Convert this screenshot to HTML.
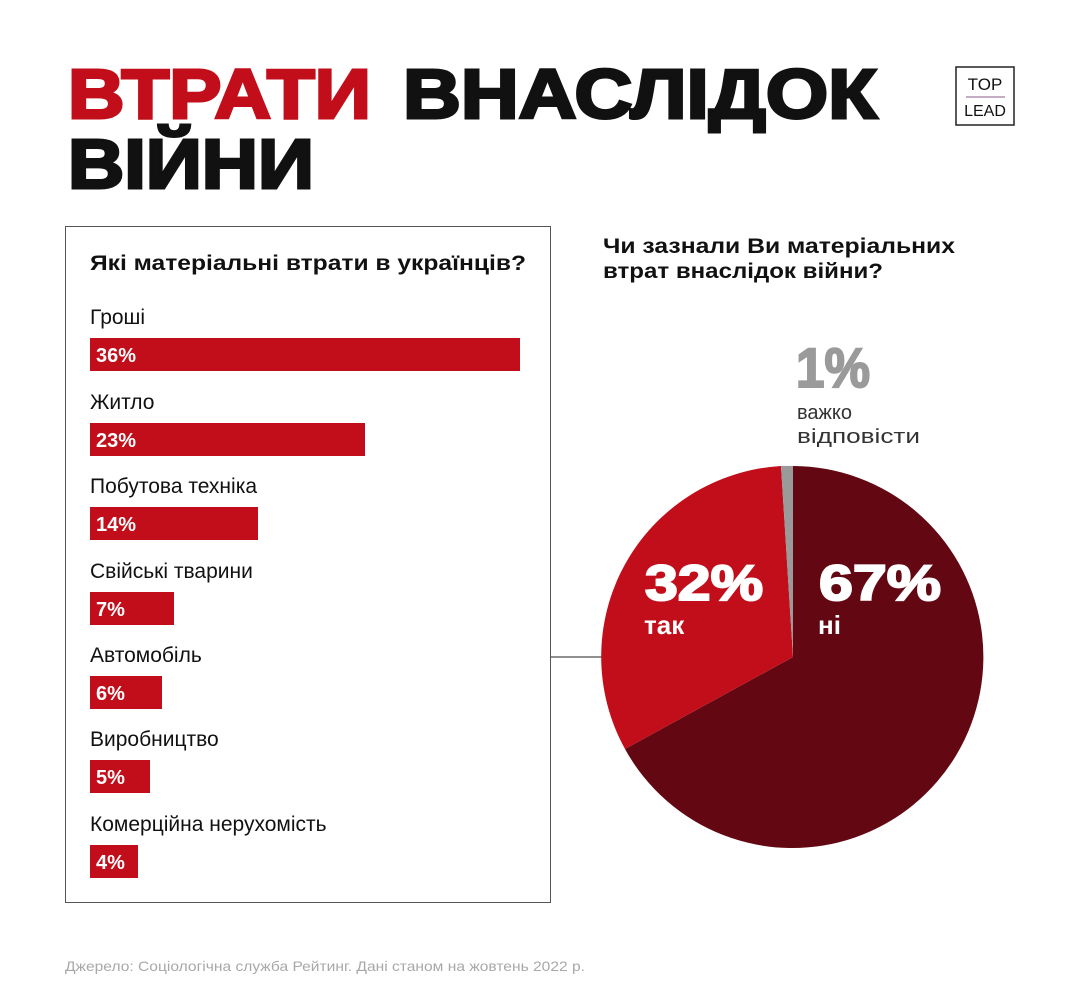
<!DOCTYPE html>
<html><head><meta charset="utf-8"><style>
html,body{margin:0;padding:0;background:#fff}
svg{display:block}
text{font-family:"Liberation Sans","DejaVu Sans",sans-serif}
</style></head><body>
<svg width="1080" height="987" viewBox="0 0 1080 987" xmlns="http://www.w3.org/2000/svg">
<rect width="1080" height="987" fill="#fff"/>
<text x="68" y="118" font-size="70" font-weight="bold" fill="#c20e1a" stroke="#c20e1a" stroke-width="3" textLength="303" lengthAdjust="spacingAndGlyphs">ВТРАТИ</text>
<text x="403" y="118" font-size="70" font-weight="bold" fill="#111" stroke="#111" stroke-width="3" textLength="474" lengthAdjust="spacingAndGlyphs">ВНАСЛІДОК</text>
<text x="68" y="188" font-size="70" font-weight="bold" fill="#111" stroke="#111" stroke-width="3" textLength="246" lengthAdjust="spacingAndGlyphs">ВІЙНИ</text>
<rect x="956" y="67" width="58" height="58" fill="none" stroke="#222" stroke-width="1.5"/>
<text x="985" y="90" font-size="17" fill="#111" text-anchor="middle">TOP</text>
<line x1="966" y1="97" x2="1005" y2="97" stroke="#8a5a8a" stroke-width="1"/>
<text x="985" y="116" font-size="16" fill="#111" text-anchor="middle">LEAD</text>
<rect x="65.5" y="226.5" width="485" height="676" fill="none" stroke="#555" stroke-width="1"/>
<line x1="551" y1="657" x2="703" y2="657" stroke="#222" stroke-width="1"/>
<text x="90" y="270" font-size="21" font-weight="bold" fill="#111" textLength="436" lengthAdjust="spacingAndGlyphs">Які матеріальні втрати в українців?</text>
<g font-size="21" fill="#111">
<text x="90" y="324">Гроші</text>
<text x="90" y="409">Житло</text>
<text x="90" y="493">Побутова техніка</text>
<text x="90" y="578">Свійські тварини</text>
<text x="90" y="662">Автомобіль</text>
<text x="90" y="746">Виробництво</text>
<text x="90" y="831">Комерційна нерухомість</text>
</g>
<g fill="#c20e1a">
<rect x="90" y="338" width="430" height="33"/>
<rect x="90" y="423" width="275" height="33"/>
<rect x="90" y="507" width="168" height="33"/>
<rect x="90" y="592" width="84" height="33"/>
<rect x="90" y="676" width="72" height="33"/>
<rect x="90" y="760" width="60" height="33"/>
<rect x="90" y="845" width="48" height="33"/>
</g>
<g font-size="20" font-weight="bold" fill="#fff">
<text x="96" y="362">36%</text>
<text x="96" y="447">23%</text>
<text x="96" y="531">14%</text>
<text x="96" y="616">7%</text>
<text x="96" y="700">6%</text>
<text x="96" y="784">5%</text>
<text x="96" y="869">4%</text>
</g>
<text x="603" y="253" font-size="21" font-weight="bold" fill="#111" textLength="352" lengthAdjust="spacingAndGlyphs">Чи зазнали Ви матеріальних</text>
<text x="603" y="278" font-size="21" font-weight="bold" fill="#111" textLength="280" lengthAdjust="spacingAndGlyphs">втрат внаслідок війни?</text>
<text x="796" y="387" font-size="56" font-weight="bold" fill="#9a9a9a" stroke="#9a9a9a" stroke-width="2" textLength="74" lengthAdjust="spacingAndGlyphs">1%</text>
<text x="797" y="419" font-size="20" fill="#333">важко</text>
<text x="797" y="443" font-size="20" fill="#333" textLength="123" lengthAdjust="spacingAndGlyphs">відповісти</text>
<path d="M793,657 L793,466 A191,191 0 1 1 625,749 Z" fill="#630812"/>
<path d="M793,657 L625,749 A191,191 0 0 1 781,466 Z" fill="#c20e1a"/>
<path d="M793,657 L781,466 A191,191 0 0 1 793,466 Z" fill="#9a9a9a"/>
<text x="645" y="600" font-size="50" font-weight="bold" fill="#fff" stroke="#fff" stroke-width="2" textLength="118" lengthAdjust="spacingAndGlyphs">32%</text>
<text x="644" y="634" font-size="26" font-weight="bold" fill="#fff">так</text>
<text x="819" y="600" font-size="50" font-weight="bold" fill="#fff" stroke="#fff" stroke-width="2" textLength="122" lengthAdjust="spacingAndGlyphs">67%</text>
<text x="818" y="634" font-size="26" font-weight="bold" fill="#fff">ні</text>
<text x="65" y="971" font-size="14" fill="#a8a8a8" textLength="520" lengthAdjust="spacingAndGlyphs">Джерело: Соціологічна служба Рейтинг. Дані станом на жовтень 2022 р.</text>
</svg>
</body></html>
